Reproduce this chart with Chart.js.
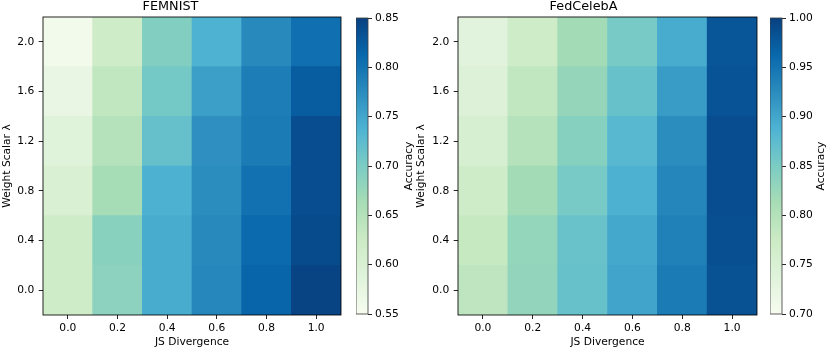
<!DOCTYPE html>
<html>
<head>
<meta charset="utf-8">
<script src="https://cdn.jsdelivr.net/npm/chart.js@4.4.1/dist/chart.umd.min.js"></script>
<style>
  body { margin: 0; background: #fff; }
  #lienzo { position: relative; width: 830px; height: 350px; }
  canvas { position: absolute; top: 0; }
</style>
</head>
<body>
<div id="lienzo">
  <canvas id="mapaFemnist" width="384" height="350" style="left:0px"></canvas>
  <canvas id="mapaCeleba" width="395" height="350" style="left:410px"></canvas>
  <canvas id="barraFemnist" width="70" height="350" style="left:356px"></canvas>
  <canvas id="barraCeleba" width="60" height="350" style="left:770px"></canvas>
</div>
<script>
//ejes del mapa de calor
const divergenciaJS = [0.0, 0.2, 0.4, 0.6, 0.8, 1.0];
const escalarPeso = [0.0, 0.4, 0.8, 1.2, 1.6, 2.0];
//precision por fila (lambda de abajo hacia arriba), una columna por divergencia
const precisionFemnist = [
  [0.622, 0.686, 0.744, 0.780, 0.815, 0.847],
  [0.622, 0.688, 0.744, 0.778, 0.810, 0.840],
  [0.601, 0.664, 0.739, 0.775, 0.802, 0.838],
  [0.589, 0.649, 0.718, 0.772, 0.793, 0.838],
  [0.574, 0.637, 0.706, 0.757, 0.790, 0.823],
  [0.559, 0.622, 0.694, 0.738, 0.778, 0.805]
];
const precisionCeleba = [
  [0.790, 0.831, 0.867, 0.901, 0.943, 0.984],
  [0.781, 0.829, 0.865, 0.898, 0.937, 0.986],
  [0.769, 0.817, 0.853, 0.889, 0.931, 0.988],
  [0.754, 0.799, 0.841, 0.880, 0.925, 0.988],
  [0.745, 0.787, 0.828, 0.867, 0.910, 0.982],
  [0.736, 0.769, 0.817, 0.853, 0.894, 0.980]
];
//marcas de las barras de color
const marcasFemnist = [0.55, 0.60, 0.65, 0.70, 0.75, 0.80, 0.85];
const marcasCeleba = [0.70, 0.75, 0.80, 0.85, 0.90, 0.95, 1.00];
//mapa de colores GnBu
const coloresGnBu = ['#f7fcf0', '#e0f3db', '#ccebc5', '#a8ddb5', '#7bccc4', '#4eb3d3', '#2b8cbe', '#0868ac', '#084081'];

Chart.defaults.font.family = '"DejaVu Sans", sans-serif';
Chart.defaults.font.size = 10.7;
Chart.defaults.color = '#000';

function hexARgb(h) {
  return [parseInt(h.slice(1, 3), 16), parseInt(h.slice(3, 5), 16), parseInt(h.slice(5, 7), 16)];
}
//interpola el color del mapa para t entre 0 y 1
function colorGnBu(t) {
  t = Math.max(0, Math.min(1, t));
  const pos = t * (coloresGnBu.length - 1);
  const i = Math.min(Math.floor(pos), coloresGnBu.length - 2);
  const f = pos - i;
  const a = hexARgb(coloresGnBu[i]);
  const b = hexARgb(coloresGnBu[i + 1]);
  const c = a.map((v, k) => Math.round(v + (b[k] - v) * f));
  return 'rgb(' + c[0] + ',' + c[1] + ',' + c[2] + ')';
}

//dibuja el marco alrededor del area del grafico
const marco = {
  id: 'marco',
  afterDatasetsDraw(chart, args, opts) {
    const a = chart.chartArea;
    const ctx = chart.ctx;
    ctx.save();
    ctx.strokeStyle = opts.color || '#000';
    ctx.lineWidth = 0.85;
    ctx.strokeRect(a.left, a.top, a.right - a.left, a.bottom - a.top);
    ctx.restore();
  }
};
//etiqueta vertical de la barra de color (se lee de abajo hacia arriba)
const etiquetaBarra = {
  id: 'etiquetaBarra',
  afterDraw(chart, args, opts) {
    const a = chart.chartArea;
    const ctx = chart.ctx;
    ctx.save();
    ctx.translate(a.right + opts.distancia, (a.top + a.bottom) / 2);
    ctx.rotate(-Math.PI / 2);
    ctx.font = '10.7px "DejaVu Sans"';
    ctx.fillStyle = '#000';
    ctx.textAlign = 'center';
    ctx.textBaseline = 'middle';
    ctx.fillText(opts.texto, 0, 0);
    ctx.restore();
  }
};

function crearMapa(id, titulo, precision, vmin, vmax, anchoEjeY, rellenoTituloY, rellenoDerecha) {
  //un dataset por cada fila de lambda, cada barra flotante es una celda
  const datasets = escalarPeso.map((lam, i) => ({
    label: 'λ = ' + lam.toFixed(1),
    data: divergenciaJS.map(js => ({ x: js, y: [lam - 0.2, lam + 0.2] })),
    backgroundColor: precision[i].map(v => colorGnBu((v - vmin) / (vmax - vmin))),
    borderWidth: 0,
    grouped: false,
    barPercentage: 1,
    categoryPercentage: 1
  }));
  new Chart(document.getElementById(id), {
    type: 'bar',
    data: { datasets: datasets },
    options: {
      responsive: false,
      animation: false,
      events: [],
      layout: { padding: { left: 0, right: rellenoDerecha, top: 0, bottom: 0 } },
      plugins: {
        legend: { display: false },
        tooltip: { enabled: false },
        title: {
          display: true, text: titulo, color: '#000',
          font: { size: 12.8, weight: 'normal', lineHeight: 1 },
          padding: { top: 0, bottom: 4.2 }
        },
        marco: { color: '#000' }
      },
      scales: {
        x: {
          type: 'linear', min: -0.1, max: 1.1, offset: false,
          afterBuildTicks: eje => { eje.ticks = divergenciaJS.map(v => ({ value: v })); },
          afterFit: eje => { eje.height = 35; },
          grid: { display: true, drawOnChartArea: false, drawTicks: true, tickLength: 4, color: '#000', lineWidth: 0.85, offset: false },
          border: { display: false },
          ticks: { padding: 2.8, maxRotation: 0, autoSkip: false, callback: v => v.toFixed(1) },
          title: { display: true, text: 'JS Divergence', padding: { top: 0, bottom: 1.6 } }
        },
        y: {
          type: 'linear', min: -0.2, max: 2.2,
          afterBuildTicks: eje => { eje.ticks = escalarPeso.map(v => ({ value: v })); },
          afterFit: eje => { eje.width = anchoEjeY; },
          grid: { display: true, drawOnChartArea: false, drawTicks: true, tickLength: 4.3, color: '#000', lineWidth: 0.85 },
          border: { display: false },
          ticks: { padding: 4.4, autoSkip: false, callback: v => v.toFixed(1) },
          title: { display: true, text: 'Weight Scalar λ', padding: { top: rellenoTituloY, bottom: 0 } }
        }
      }
    },
    plugins: [marco]
  });
}

function crearBarra(id, vmin, vmax, marcas, distancia, anchoEje) {
  new Chart(document.getElementById(id), {
    type: 'bar',
    data: {
      labels: ['Accuracy'],
      datasets: [{
        data: [[vmin, vmax]],
        //degradado del mapa GnBu de abajo hacia arriba
        backgroundColor: c => {
          const a = c.chart.chartArea;
          if (!a) return coloresGnBu[4];
          const g = c.chart.ctx.createLinearGradient(0, a.bottom, 0, a.top);
          coloresGnBu.forEach((col, i) => g.addColorStop(i / (coloresGnBu.length - 1), col));
          return g;
        },
        borderWidth: 0,
        barPercentage: 1,
        categoryPercentage: 1
      }]
    },
    options: {
      responsive: false,
      animation: false,
      events: [],
      layout: { padding: { left: 0, right: 0, top: 18, bottom: 36 } },
      plugins: {
        legend: { display: false },
        tooltip: { enabled: false },
        marco: { color: '#444' },
        etiquetaBarra: { texto: 'Accuracy', distancia: distancia }
      },
      scales: {
        x: { display: false },
        y: {
          position: 'right', min: vmin, max: vmax,
          afterBuildTicks: eje => { eje.ticks = marcas.map(v => ({ value: v })); },
          afterFit: eje => { eje.width = anchoEje; },
          grid: { display: true, drawOnChartArea: false, drawTicks: true, tickLength: 4, color: '#000', lineWidth: 0.85 },
          border: { display: false },
          ticks: { padding: 3, autoSkip: false, callback: v => v.toFixed(2) }
        }
      }
    },
    plugins: [marco, etiquetaBarra]
  });
}

crearMapa('mapaFemnist', 'FEMNIST', precisionFemnist, 0.55, 0.85, 43, 1.1, 43);
crearMapa('mapaCeleba', 'FedCelebA', precisionCeleba, 0.70, 1.00, 48, 4.6, 48);
crearBarra('barraFemnist', 0.55, 0.85, marcasFemnist, 41, 58);
crearBarra('barraCeleba', 0.70, 1.00, marcasCeleba, 39, 48);
</script>
</body>
</html>
